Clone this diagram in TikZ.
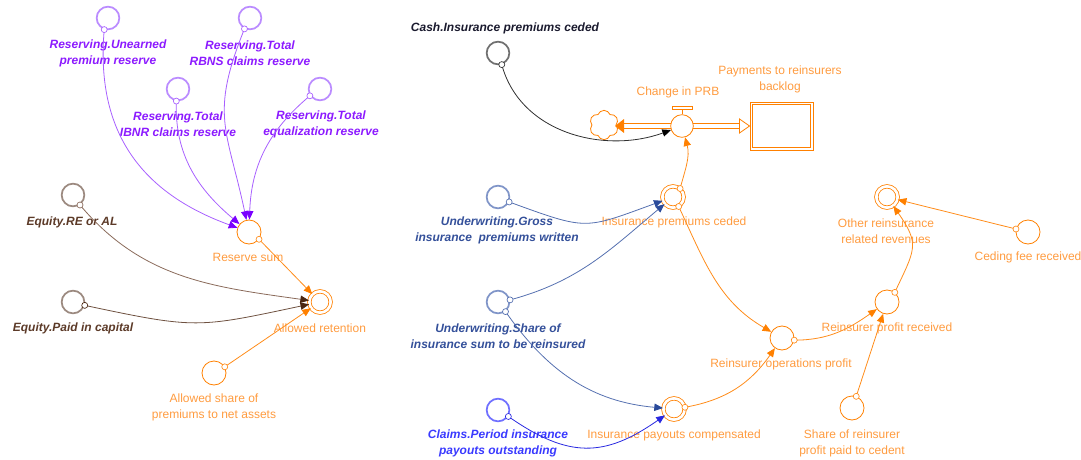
\documentclass[tikz,border=0pt]{standalone}
\usepackage{fontspec}
\setmainfont{Liberation Sans}
\usetikzlibrary{arrows.meta,shapes.symbols,calc}
\definecolor{purpT}{HTML}{8C1AFF}
\definecolor{purpL}{HTML}{A860FF}
\definecolor{purpA}{HTML}{7A00FF}
\definecolor{purpG}{HTML}{BB8CFF}
\definecolor{brT}{HTML}{5C3A28}
\definecolor{brG}{HTML}{9C8A80}
\definecolor{brL}{HTML}{8A6A5A}
\definecolor{brA}{HTML}{4A2510}
\definecolor{orT}{HTML}{FF9B3F}
\definecolor{orL}{HTML}{FF8C1A}
\definecolor{orC}{HTML}{FF8000}
\definecolor{blT}{HTML}{34509A}
\definecolor{blL}{HTML}{5570B0}
\definecolor{blG}{HTML}{8095C8}
\definecolor{blA}{HTML}{2A4A9A}
\definecolor{clT}{HTML}{3A3AFF}
\definecolor{clL}{HTML}{2828E0}
\definecolor{clG}{HTML}{7070FF}
\definecolor{bkT}{HTML}{1A1A2E}
\definecolor{bkG}{HTML}{707070}
\definecolor{bkL}{HTML}{303030}
\begin{document}
\begin{tikzpicture}[x=0.75pt,y=-0.75pt,
  var/.style={circle,draw=orC,line width=0.6pt,minimum size=18pt,inner sep=0pt},
  dvar/.style={circle,draw=orC,line width=0.6pt,double=white,double distance=2pt,minimum size=16pt,inner sep=0pt},
  ghost/.style={circle,line width=1.3pt,minimum size=17pt,inner sep=0pt},
  src/.style={circle,draw,fill=white,line width=0.5pt,minimum size=4.5pt,inner sep=0pt},
  lbl/.style={font=\fontsize{9}{12}\selectfont,align=center,inner sep=0pt,text=orT},
  blbl/.style={font=\fontsize{9}{12}\selectfont\bfseries\itshape,align=center,inner sep=0pt},
  lnk/.style={line width=0.6pt,-{Triangle[length=6.5pt,width=5.5pt,color=#1]}},
  stockbox/.style={rectangle,draw=orC,line width=0.7pt,minimum width=47.25pt,minimum height=36pt,inner sep=0pt}
]
\useasboundingbox (0,0) rectangle (1081,460);

% ---------- left part: variables ----------
\node[ghost,draw=purpG] (uprem) at (108,18) {};
\node[ghost,draw=purpG] (rbns) at (250,18) {};
\node[ghost,draw=purpG] (ibnr) at (178,89) {};
\node[ghost,draw=purpG] (equal) at (320,89) {};
\node[var] (ressum) at (249,232) {};
\node[ghost,draw=brG] (real) at (73,195) {};
\node[ghost,draw=brG] (paid) at (73,302) {};
\node[dvar] (allret) at (320,302) {};
\node[var] (allshare) at (214,373) {};

% ---------- right part: variables ----------
\node[ghost,draw=bkG] (cash) at (498,53) {};
\node[cloud,cloud puffs=6,cloud puff arc=140,aspect=1,draw=orC,line width=0.6pt,minimum width=22pt,minimum height=22pt,inner sep=0pt] (cloud) at (604,125) {};
\node[var,minimum size=17pt] (valve) at (682,126) {};
\node[stockbox] (stock) at (781.5,126) {};
\draw[orC,line width=0.7pt] ($(stock.north west)+(3,3)$) rectangle ($(stock.south east)+(-3,-3)$);
\node[dvar] (icp) at (673,197) {};
\node[ghost,draw=blG] (gross) at (498,197) {};
\node[ghost,draw=blG] (share) at (498,302) {};
\node[ghost,draw=clG] (claims) at (498,410) {};
\node[dvar] (ipc) at (674,409) {};
\node[var] (rop) at (782,338) {};
\node[var] (rpr) at (887,302) {};
\node[var] (srp) at (852,408) {};
\node[dvar] (orrr) at (887,197) {};
\node[var] (ceding) at (1028,232) {};

% ---------- labels ----------
\node[blbl,text=purpT] (t-uprem) at (108,53) {Reserving.Unearned\\premium reserve};
\node[blbl,text=purpT] (t-rbns) at (250,53) {Reserving.Total\\RBNS claims reserve};
\node[blbl,text=purpT] (t-ibnr) at (178,124) {Reserving.Total\\IBNR claims reserve};
\node[blbl,text=purpT] (t-equal) at (321,124) {Reserving.Total\\equalization reserve};
\node[lbl] (t-ressum) at (248,257) {Reserve sum};
\node[blbl,text=brT] (t-real) at (72,222) {Equity.RE or AL};
\node[blbl,text=brT] (t-paid) at (73,328) {Equity.Paid in capital};
\node[lbl] (t-allret) at (320,328) {Allowed retention};
\node[lbl] (t-allshare) at (214,407) {Allowed share of\\premiums to net assets};

\node[blbl,text=bkT] (t-cash) at (505,28) {Cash.Insurance premiums ceded};
\node[lbl] (t-valve) at (678,92) {Change in PRB};
\node[lbl] (t-stock) at (780,79) {Payments to reinsurers\\backlog};
\node[blbl,text=blT] (t-gross) at (497,230) {Underwriting.Gross\\insurance\ \ premiums written};
\node[lbl] (t-icp) at (674,222) {Insurance premiums ceded};
\node[blbl,text=blT] (t-share) at (498,336) {Underwriting.Share of\\insurance sum to be reinsured};
\node[blbl,text=clT] (t-claims) at (498,443) {Claims.Period insurance\\payouts outstanding};
\node[lbl] (t-ipc) at (674,435) {Insurance payouts compensated};
\node[lbl] (t-rop) at (781,364) {Reinsurer operations profit};
\node[lbl] (t-rpr) at (887,328) {Reinsurer profit received};
\node[lbl] (t-srp) at (852,443) {Share of reinsurer\\profit paid to cedent};
\node[lbl] (t-orrr) at (886,231) {Other reinsurance\\related revenues};
\node[lbl] (t-ceding) at (1028,257) {Ceding fee received};

% ---------- link origins ----------
\coordinate (o-uprem) at (uprem.-108);
\coordinate (o-rbns) at (rbns.-117);
\coordinate (o-ibnr) at (ibnr.-98);
\coordinate (o-equal) at (equal.-146);
\coordinate (o-real) at (real.-55);
\coordinate (o-paid) at (paid.-16);
\coordinate (o-ressum) at (ressum.-36);
\coordinate (o-allshare) at (allshare.30);
\coordinate (o-cash) at (cash.-72);
\coordinate (o-icp1) at (icp.50);
\coordinate (o-icp2) at (icp.-59);
\coordinate (o-gross) at (gross.-24);
\coordinate (o-share1) at (share.10);
\coordinate (o-share2) at (share.-52);
\coordinate (o-claims) at (claims.-32);
\coordinate (o-ipc) at (ipc.9);
\coordinate (o-rop) at (rop.-10);
\coordinate (o-rpr) at (rpr.51);
\coordinate (o-srp) at (srp.70);
\coordinate (o-ceding) at (ceding.166);

% ---------- flow ----------
\coordinate (ltip) at (615,126);
\draw[orC,line width=0.6pt] ($(ltip)+(9,-2.7)$) -- ($(valve.west)+(0.5,-2.7)$);
\draw[orC,line width=0.6pt] ($(ltip)+(9,2.7)$) -- ($(valve.west)+(0.5,2.7)$);
\fill[orC] (ltip) -- ($(ltip)+(9,-7)$) -- ($(ltip)+(9,7)$) -- cycle;
\draw[orC,line width=0.6pt] ($(valve.east)+(-0.5,-2.7)$) -- ($(stock.west)+(-10,-2.7)$);
\draw[orC,line width=0.6pt] ($(valve.east)+(-0.5,2.7)$) -- ($(stock.west)+(-10,2.7)$);
\draw[orC,line width=0.6pt,fill=white] ($(stock.west)+(-10,-7)$) -- (stock.west) -- ($(stock.west)+(-10,7)$) -- cycle;
\draw[orC,line width=0.6pt] (valve.north) -- ($(valve.north)+(0,-5)$);
\draw[orC,line width=0.6pt,fill=white] ($(valve.north)+(-10,-5)$) rectangle ($(valve.north)+(10,-7.5)$);

% ---------- connectors ----------
\draw[lnk=purpA,purpL] (o-uprem) to[out=-95,in=160,looseness=1.1] (ressum);
\draw[lnk=purpA,purpL] (o-ibnr) to[out=-92,in=140] (ressum);
\draw[lnk=purpA,purpL] (o-rbns) to[out=-112,in=102,looseness=1.25] (ressum);
\draw[lnk=purpA,purpL] (o-equal) to[out=-140,in=88] (ressum);
\draw[lnk=brA,brL] (o-real) to[out=-50,in=172] (allret);
\draw[lnk=brA,brA!80!white] (o-paid) to[out=-12,in=192,looseness=1.3] (allret);
\draw[lnk=orC,orL] (o-ressum) -- (allret);
\draw[lnk=orC,orL] (o-allshare) -- (allret);

\draw[lnk=black,bkL] (o-cash) to[out=-75,in=200] (valve);
\draw[lnk=orC,orL] (o-icp1) to[out=75,in=-75] (valve);
\draw[lnk=blA,blL] (o-gross) to[out=-20,in=200,looseness=1.4] (icp);
\draw[lnk=blA,blL] (o-share1) to[out=15,in=220] (icp);
\draw[lnk=blA,blL] (o-share2) to[out=-55,in=175] (ipc);
\draw[lnk=clL,clL] (o-claims) to[out=-35,in=215,looseness=1.2] (ipc);
\draw[lnk=orC,orL] (o-ipc) to[out=10,in=235] (rop);
\draw[lnk=orC,orL] (o-icp2) to[out=-65,in=150] (rop);
\draw[lnk=orC,orL] (o-rop) to[out=0,in=215] (rpr);
\draw[lnk=orC,orL] (o-srp) -- (rpr);
\draw[lnk=orC,orL] (o-rpr) to[out=65,in=-55,looseness=1.4] (orrr);
\draw[lnk=orC,orL] (o-ceding) -- (orrr);

% ---------- small origin circles ----------
\foreach \p/\c in {uprem/purpL,rbns/purpL,ibnr/purpL,equal/purpL,real/brL,paid/brA,ressum/orL,allshare/orL,cash/bkL,icp1/orL,icp2/orL,gross/blL,share1/blL,share2/blL,claims/clL,ipc/orL,rop/orL,rpr/orL,srp/orL,ceding/orL}
  \node[src,draw=\c] at (o-\p) {};
\end{tikzpicture}
\end{document}
